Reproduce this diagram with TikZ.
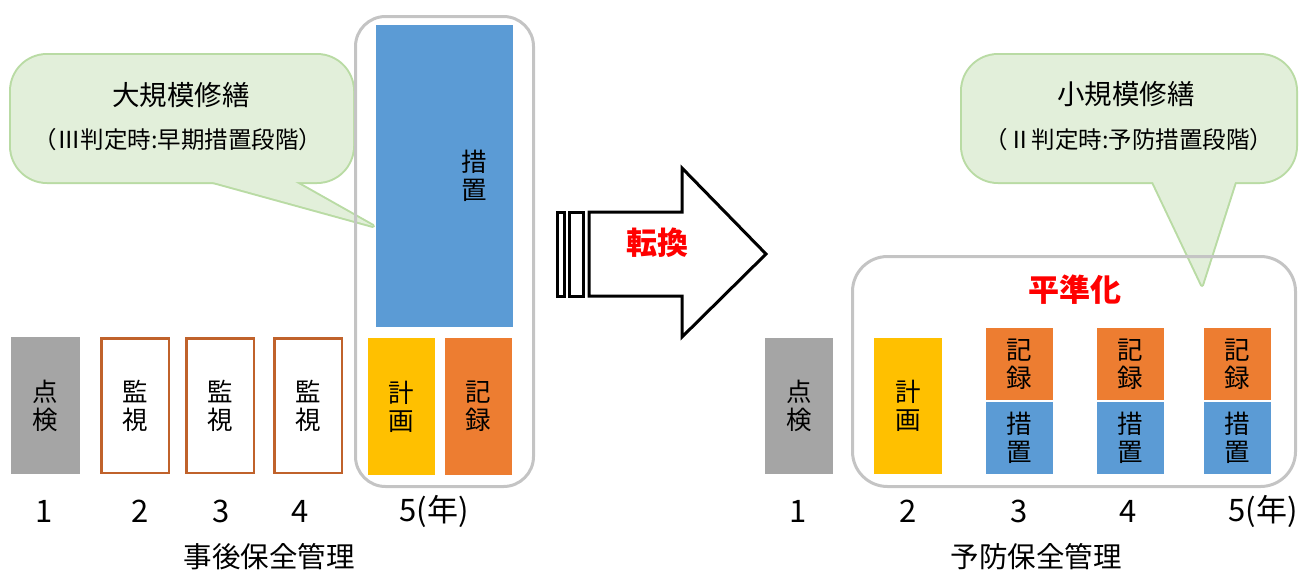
\documentclass[tikz,border=0pt]{standalone}
\usepackage{fontspec}
\setmainfont{Noto Sans CJK JP}
\definecolor{cgray}{HTML}{A5A5A5}
\definecolor{cblue}{HTML}{5B9BD5}
\definecolor{corange}{HTML}{ED7D31}
\definecolor{cyellow}{HTML}{FFC000}
\definecolor{cbrown}{HTML}{C0622B}
\definecolor{ccont}{HTML}{C4C4C4}
\definecolor{cgfill}{HTML}{E2EFDA}
\definecolor{cgline}{HTML}{B9DBA4}
\definecolor{cred}{HTML}{FF0000}
\begin{document}
\begin{tikzpicture}[x=1pt,y=-1pt,
  fbox/.style={draw=none,inner sep=0pt,align=center,font=\fontsize{25.5}{28}\selectfont},
  kbox/.style={draw=cbrown,line width=2.5pt,fill=white,inner sep=0pt,align=center,font=\fontsize{25.5}{28}\selectfont,minimum width=67.5pt,minimum height=134.5pt},
  contbox/.style={draw=ccont,line width=3pt,rounded corners=30pt,inner sep=0pt},
  numtxt/.style={inner sep=0pt,font=\fontsize{31}{34}\selectfont},
  captxt/.style={inner sep=0pt,font=\fontsize{28.5}{32}\selectfont},
  ttltxt/.style={inner sep=0pt,font=\fontsize{27.5}{30}\selectfont},
  subtxt/.style={inner sep=0pt,font=\fontsize{23.5}{26}\selectfont},
  redtxt/.style={inner sep=0pt,text=cred,font=\fontsize{31}{34}\selectfont\bfseries},
  coline/.style={draw=cgline,line width=4pt,line join=round},
  cofill/.style={fill=cgfill},
  arrline/.style={draw=black,line width=3pt,fill=white}
]
\useasboundingbox (0,0) rectangle (1300,571);

% ---------- left callout ----------
\draw[coline,rounded corners=36pt] (11,55) rectangle (353,182);
\draw[coline] (213,182) -- (373,226) -- (295,182) -- cycle;
\fill[cofill,rounded corners=36pt] (11,55) rectangle (353,182);
\fill[cofill] (213,182) -- (373,226) -- (295,182) -- cycle;
\node[ttltxt] (t1) at (181,95) {大規模修繕};
\node[subtxt] (s1) at (178,140) {（Ⅲ判定時:早期措置段階）};

% ---------- left group ----------
\node[contbox,minimum width=178pt,minimum height=470pt] (c1) at (444.5,251.5) {};
\node[fbox,fill=cgray,minimum width=69pt,minimum height=137pt] (tk1) at (45.5,405.5) {点\\検};
\node[kbox] (kn1) at (135,405.5) {監\\視};
\node[kbox] (kn2) at (220,405.5) {監\\視};
\node[kbox] (kn3) at (308,405.5) {監\\視};
\node[fbox,fill=cyellow,minimum width=67pt,minimum height=137pt] (kk1) at (401.5,406.5) {計\\画};
\node[fbox,fill=corange,minimum width=67pt,minimum height=137pt] (kr1) at (478.5,406.5) {記\\録};
\node[fbox,fill=cblue,minimum width=137pt,minimum height=302pt] (sc1) at (444.5,176) {};
\node[fbox] (sc1t) at (474,176) {措\\置};

\node[numtxt] (n11) at (44.5,511) {1};
\node[numtxt] (n12) at (140,511) {2};
\node[numtxt] (n13) at (221,511) {3};
\node[numtxt] (n14) at (300,511) {4};
\node[numtxt] (n15) at (434,511) {5(年)};
\node[captxt] (cap1) at (269,557) {事後保全管理};

% ---------- arrow ----------
\draw[arrline] (557,212) rectangle (564,296);
\draw[arrline] (569,212) rectangle (583,296);
\draw[arrline,line join=miter] (589,212) -- (682,212) -- (682,168) -- (766,254) -- (682,337) -- (682,296) -- (589,296) -- cycle;
\node[redtxt] (tk) at (657,243) {転換};

% ---------- right callout ----------
\draw[coline,rounded corners=36pt] (962,55) rectangle (1296,182);
\draw[coline] (1153,182) -- (1202,285) -- (1235,182) -- cycle;
\fill[cofill,rounded corners=36pt] (962,55) rectangle (1296,182);
\fill[cofill] (1153,182) -- (1202,285) -- (1235,182) -- cycle;
\node[ttltxt] (t2) at (1126,94) {小規模修繕};
\node[subtxt] (s2) at (1129,140) {（Ⅱ判定時:予防措置段階）};

% ---------- right group ----------
\node[contbox,rounded corners=35pt,minimum width=443pt,minimum height=230pt] (c2) at (1074,371.5) {};
\node[redtxt] (hj) at (1075,290) {平準化};
\node[fbox,fill=cgray,minimum width=68pt,minimum height=136pt] (tk2) at (799,406) {点\\検};
\node[fbox,fill=cyellow,minimum width=68pt,minimum height=136pt] (kk2) at (908,406) {計\\画};
\node[fbox,fill=corange,minimum width=67pt,minimum height=72pt] (kr3) at (1019.5,364) {記\\録};
\node[fbox,fill=cblue,minimum width=67pt,minimum height=72pt] (sc3) at (1019.5,438) {措\\置};
\node[fbox,fill=corange,minimum width=67pt,minimum height=72pt] (kr4) at (1130.5,364) {記\\録};
\node[fbox,fill=cblue,minimum width=67pt,minimum height=72pt] (sc4) at (1130.5,438) {措\\置};
\node[fbox,fill=corange,minimum width=67pt,minimum height=72pt] (kr5) at (1237.5,364) {記\\録};
\node[fbox,fill=cblue,minimum width=67pt,minimum height=72pt] (sc5) at (1237.5,438) {措\\置};

\node[numtxt] (n21) at (798,511) {1};
\node[numtxt] (n22) at (908,511) {2};
\node[numtxt] (n23) at (1019,511) {3};
\node[numtxt] (n24) at (1128,511) {4};
\node[numtxt] (n25) at (1263,511) {5(年)};
\node[captxt] (cap2) at (1036,557) {予防保全管理};
\end{tikzpicture}
\end{document}
